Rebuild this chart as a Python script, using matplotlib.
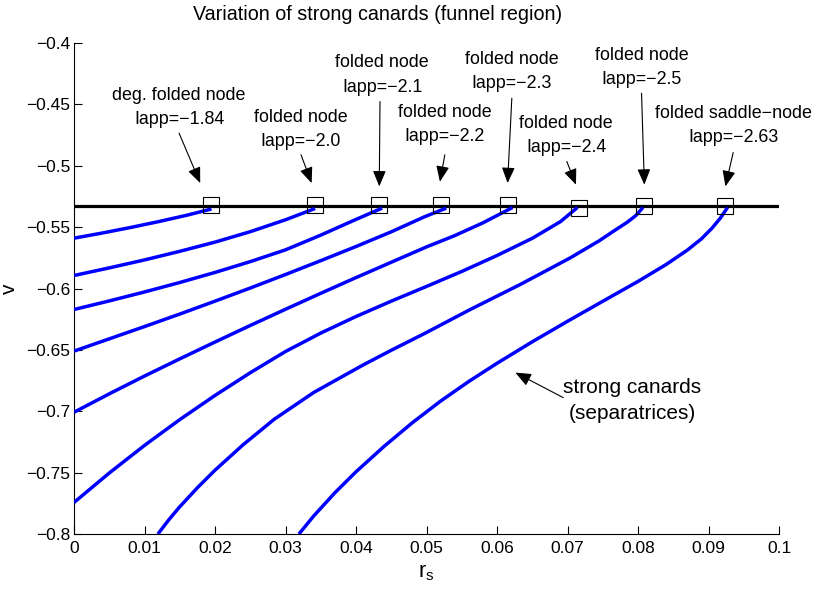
import matplotlib
matplotlib.use("Agg")
import matplotlib.pyplot as plt
from matplotlib.ticker import FuncFormatter

plt.rcParams['font.family'] = ['Liberation Sans', 'DejaVu Sans']

# strong canard curves (r_s, v), one per Iapp value
c1_r = [0, 0.004, 0.008, 0.012, 0.016, 0.0195]
c1_v = [-0.559, -0.5548, -0.5503, -0.5455, -0.5403, -0.5352]
c2_r = [0, 0.005, 0.01, 0.015, 0.02, 0.025, 0.03, 0.0342]
c2_v = [-0.5894, -0.5832, -0.5767, -0.5697, -0.5622, -0.5537, -0.544, -0.5348]
c3_r = [0, 0.005, 0.01, 0.015, 0.02, 0.025, 0.03, 0.035, 0.04, 0.0437]
c3_v = [-0.6171, -0.6101, -0.6028, -0.5951, -0.5869, -0.5781, -0.5685, -0.5565, -0.5437, -0.5345]
c4_r = [0, 0.005, 0.01, 0.015, 0.02, 0.025, 0.03, 0.035, 0.04, 0.045, 0.0497, 0.0528]
c4_v = [-0.651, -0.641, -0.631, -0.6208, -0.6103, -0.5996, -0.5886, -0.5773, -0.5658, -0.5538,
        -0.5416, -0.5345]
c5_r = [0, 0.005, 0.01, 0.015, 0.02, 0.025, 0.03, 0.035, 0.04, 0.045, 0.05, 0.054, 0.058, 0.0622]
c5_v = [-0.7008, -0.6858, -0.6713, -0.6573, -0.6436, -0.6301, -0.6169, -0.6039, -0.5911, -0.5786,
        -0.5661, -0.5569, -0.5465, -0.534]
c6_r = [0, 0.005, 0.01, 0.015, 0.02, 0.025, 0.03, 0.035, 0.04, 0.045, 0.05, 0.055, 0.06, 0.065,
        0.069, 0.0714]
c6_v = [-0.7743, -0.7503, -0.7278, -0.7068, -0.6871, -0.6686, -0.6513, -0.6363, -0.6228, -0.6103,
        -0.5983, -0.5861, -0.5731, -0.5591, -0.5455, -0.534]
c7_r = [0.0119, 0.0135, 0.015, 0.0175, 0.02, 0.024, 0.0284, 0.034, 0.041, 0.045, 0.0497, 0.0562,
        0.0633, 0.0704, 0.0745, 0.0765, 0.0785, 0.0797, 0.0807]
c7_v = [-0.8, -0.788, -0.7778, -0.7623, -0.748, -0.7272, -0.7065, -0.6847, -0.6623, -0.6503,
        -0.6367, -0.6171, -0.5967, -0.575, -0.5611, -0.5534, -0.5459, -0.5405, -0.534]
c8_r = [0.0319, 0.034, 0.037, 0.04, 0.044, 0.048, 0.052, 0.056, 0.06, 0.065, 0.07, 0.075, 0.08,
        0.084, 0.087, 0.089, 0.0905, 0.0917, 0.0924, 0.0927]
c8_v = [-0.8, -0.7853, -0.7664, -0.7493, -0.7285, -0.7093, -0.6917, -0.6757, -0.6609, -0.6434,
        -0.6267, -0.6104, -0.5942, -0.5804, -0.5687, -0.5595, -0.5508, -0.5425, -0.5365, -0.534]

curves_r = [c1_r, c2_r, c3_r, c4_r, c5_r, c6_r, c7_r, c8_r]
curves_v = [c1_v, c2_v, c3_v, c4_v, c5_v, c6_v, c7_v, c8_v]

# folded singularities on the fold line
fold_v = -0.5325
sing_r = [0.0195, 0.0342, 0.0433, 0.0521, 0.0615, 0.0717, 0.0808, 0.0924]
sing_v = [-0.532, -0.532, -0.532, -0.532, -0.532, -0.5345, -0.533, -0.533]
sing_labels = ['deg. folded node\nIapp=\u22121.84', 'folded node\nIapp=\u22122.0',
               'folded node\nIapp=\u22122.1', 'folded node\nIapp=\u22122.2',
               'folded node\nIapp=\u22122.3', 'folded node\nIapp=\u22122.4',
               'folded node\nIapp=\u22122.5', 'folded saddle\u2212node\nIapp=\u22122.63']

# label placement: text centre, arrow tail, arrow head
label_xy = [(0.0149, -0.4528), (0.0321, -0.4707), (0.0437, -0.426), (0.0526, -0.4667),
            (0.0621, -0.4233), (0.0698, -0.4756), (0.0805, -0.4199), (0.0935, -0.4675)]
tail_xy = [(0.0149, -0.4734), (0.0322, -0.4911), (0.0434, -0.4477), (0.0526, -0.4911),
           (0.0621, -0.445), (0.0699, -0.4965), (0.0805, -0.4409), (0.0935, -0.4892)]
head_xy = [(0.0179, -0.5141), (0.0337, -0.5141), (0.0433, -0.5168), (0.0519, -0.513),
           (0.0615, -0.5141), (0.0712, -0.5154), (0.0809, -0.5154), (0.0924, -0.5168)]

xticks = [0, 0.01, 0.02, 0.03, 0.04, 0.05, 0.06, 0.07, 0.08, 0.09, 0.1]
yticks = [-0.8, -0.75, -0.7, -0.65, -0.6, -0.55, -0.5, -0.45, -0.4]

fig = plt.figure(figsize=(8.17, 5.95), dpi=100)
ax = fig.add_axes([0.0906, 0.1025, 0.8629, 0.8252])

for r, v in zip(curves_r, curves_v):
    ax.plot(r, v, color=(0, 0, 1), lw=2.5, solid_capstyle='butt', solid_joinstyle='round', zorder=3)

ax.axhline(fold_v, color='k', lw=2.3, zorder=2)
ax.plot(sing_r, sing_v, ls='none', marker='s', ms=11.5, mfc='none', mec='k', mew=0.8, zorder=4)

arrow = dict(arrowstyle='-|>,head_length=0.6,head_width=0.25', color='k', lw=0.8,
             mutation_scale=16, shrinkA=0, shrinkB=0)
for lab, txy, a0, a1 in zip(sing_labels, label_xy, tail_xy, head_xy):
    ax.text(txy[0], txy[1], lab, ha='center', va='center', fontsize=12.9, linespacing=1.55)
    ax.annotate('', xy=a1, xytext=a0, arrowprops=arrow)

ax.text(0.0792, -0.6911, 'strong canards\n(separatrices)', ha='center', va='center',
        fontsize=15, linespacing=1.45)
ax.annotate('', xy=(0.0626, -0.6685), xytext=(0.0694, -0.6889), arrowprops=arrow)

ax.set_xlim(0, 0.1)
ax.set_ylim(-0.8, -0.4)
ax.set_xticks(xticks)
ax.set_yticks(yticks)
fmt = FuncFormatter(lambda x, p: ('%g' % round(x, 4)).replace('-', '\u2212'))
ax.xaxis.set_major_formatter(fmt)
ax.yaxis.set_major_formatter(fmt)
ax.tick_params(direction='in', length=6, width=0.8, labelsize=12.5, pad=2.5)
ax.tick_params(axis='x', pad=5)
for s in ['top', 'right']:
    ax.spines[s].set_visible(False)
for s in ['left', 'bottom']:
    ax.spines[s].set_linewidth(0.8)

ax.set_ylabel('v', fontsize=15)
ax.yaxis.set_label_coords(-0.078, 0.5)
ax.set_xlabel(r'$\mathregular{r_s}$', fontsize=15.5)
ax.xaxis.set_label_coords(0.5, -0.058)

fig.text(0.462, 0.975, 'Variation of strong canards (funnel region)', ha='center', va='center',
         fontsize=14.2)

fig.savefig('out.png', dpi=100)
